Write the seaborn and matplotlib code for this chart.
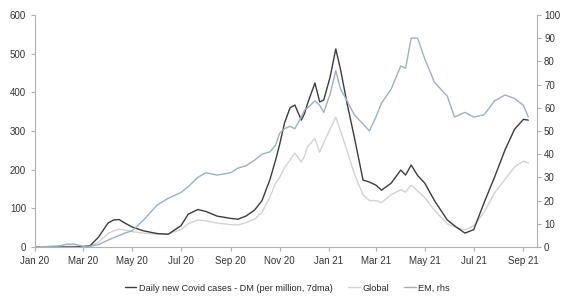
import matplotlib
matplotlib.use("Agg")
import matplotlib.pyplot as plt
import seaborn as sns
import pandas as pd

dates = ["2020-01-01", "2020-02-01", "2020-02-10", "2020-02-20", "2020-03-01", "2020-03-10",
         "2020-03-20", "2020-04-01", "2020-04-08", "2020-04-15", "2020-04-22", "2020-05-01",
         "2020-05-15", "2020-06-01", "2020-06-15", "2020-07-01", "2020-07-10", "2020-07-22",
         "2020-08-01", "2020-08-15", "2020-09-01", "2020-09-10", "2020-09-20", "2020-10-01",
         "2020-10-10", "2020-10-20", "2020-10-27", "2020-11-01", "2020-11-07", "2020-11-14",
         "2020-11-20", "2020-11-28", "2020-12-02", "2020-12-06", "2020-12-15", "2020-12-21",
         "2020-12-26", "2021-01-03", "2021-01-10", "2021-01-16", "2021-01-24", "2021-02-02",
         "2021-02-13", "2021-02-21", "2021-03-01", "2021-03-08", "2021-03-20", "2021-04-01",
         "2021-04-07", "2021-04-14", "2021-04-22", "2021-05-01", "2021-05-13", "2021-05-29",
         "2021-06-07", "2021-06-20", "2021-07-01", "2021-07-14", "2021-07-27", "2021-08-09",
         "2021-08-21", "2021-09-01", "2021-09-07"]

dm = [0, 0, 0, 0, 1, 4,
      25, 62, 70, 71, 62, 52,
      42, 35, 33, 55, 85, 97,
      92, 80, 74, 72, 80, 96,
      120, 175, 225, 265, 320, 360,
      367, 328, 345, 372, 424, 375,
      380, 440, 512, 458, 372, 285,
      173, 168, 160, 147, 165, 199,
      186, 212, 185, 165, 120, 70,
      55, 36, 45, 115, 181, 251,
      305, 330, 328]

global_ = [0, 1, 2, 2, 2, 3,
           12, 35, 42, 46, 44, 40,
           36, 33, 34, 45, 60, 70,
           68, 62, 58, 57, 63, 72,
           90, 130, 165, 180, 205, 225,
           243, 220, 235, 260, 280, 245,
           270, 305, 336, 300, 250, 190,
           135, 120, 120, 115, 135, 148,
           142, 160, 145, 128, 95, 60,
           52, 44, 55, 90, 140, 175,
           207, 222, 217]

em = [0, 0.5, 1.3, 1.2, 0.3, 0.4,
      1, 3, 4, 5, 6, 7,
      11.5, 18, 21, 23.5, 26, 30,
      32, 31, 32, 34, 35, 37.5,
      40, 41, 44, 49, 51, 52,
      51, 56, 59, 60, 63, 61,
      58, 66, 76, 68, 63, 57,
      53, 50, 56, 62, 68, 78,
      77, 90, 90, 81, 71, 65,
      56, 58, 56, 57, 63, 65.5,
      64, 61, 56]

xtick_labels = ["Jan 20", "Mar 20", "May 20", "Jul 20", "Sep 20", "Nov 20",
                "Jan 21", "Mar 21", "May 21", "Jul 21", "Sep 21"]

df = pd.DataFrame({"date": pd.to_datetime(dates), "dm": dm, "global": global_, "em": em})

sns.set_style("ticks")
plt.rcParams["font.family"] = ["Liberation Sans", "DejaVu Sans"]

fig = plt.figure(figsize=(5.61, 2.98), dpi=100)
ax = fig.add_axes([0.0624, 0.171, 0.895, 0.779])
ax2 = ax.twinx()

c_dm = "#3c3c3c"
c_gl = "#d2d2d2"
c_em = "#9cb0c0"

sns.lineplot(data=df, x="date", y="global", ax=ax, color=c_gl, linewidth=1.0,
             label="Global", legend=False)
sns.lineplot(data=df, x="date", y="dm", ax=ax, color=c_dm, linewidth=1.0,
             label="Daily new Covid cases - DM (per million, 7dma)", legend=False)
sns.lineplot(data=df, x="date", y="em", ax=ax2, color=c_em, linewidth=1.0,
             label="EM, rhs", legend=False)

ax.set_ylim(0, 600)
ax2.set_ylim(0, 100)
ax.set_yticks(range(0, 601, 100))
ax2.set_yticks(range(0, 101, 10))
ax.set_xlim(pd.Timestamp("2020-01-01"), pd.Timestamp("2021-09-18"))
ticks = pd.date_range("2020-01-01", "2021-09-01", freq="2MS")
ax.set_xticks(ticks)
ax.set_xticklabels(xtick_labels)

for a in (ax, ax2):
    a.set_xlabel("")
    a.set_ylabel("")
    a.spines["top"].set_visible(False)
    for s in ("left", "bottom", "right"):
        a.spines[s].set_color("#b0b0b0")
        a.spines[s].set_linewidth(0.8)
    a.tick_params(labelsize=7, colors="#b0b0b0", labelcolor="#333333", length=3, width=0.8)
ax2.tick_params(axis="y", pad=2)
ax.spines["right"].set_visible(False)
ax2.spines["left"].set_visible(False)
ax2.spines["bottom"].set_visible(False)

h1, l1 = ax.get_legend_handles_labels()
h2, l2 = ax2.get_legend_handles_labels()
order = [1, 0]
handles = [h1[i] for i in order] + h2
labels = [l1[i] for i in order] + l2
fig.legend(handles, labels, loc="center", bbox_to_anchor=(0.512, 0.033), ncol=3,
           frameon=False, fontsize=6.6, handlelength=1.3, handletextpad=0.3,
           columnspacing=1.6)

fig.savefig("out.png", dpi=100)
